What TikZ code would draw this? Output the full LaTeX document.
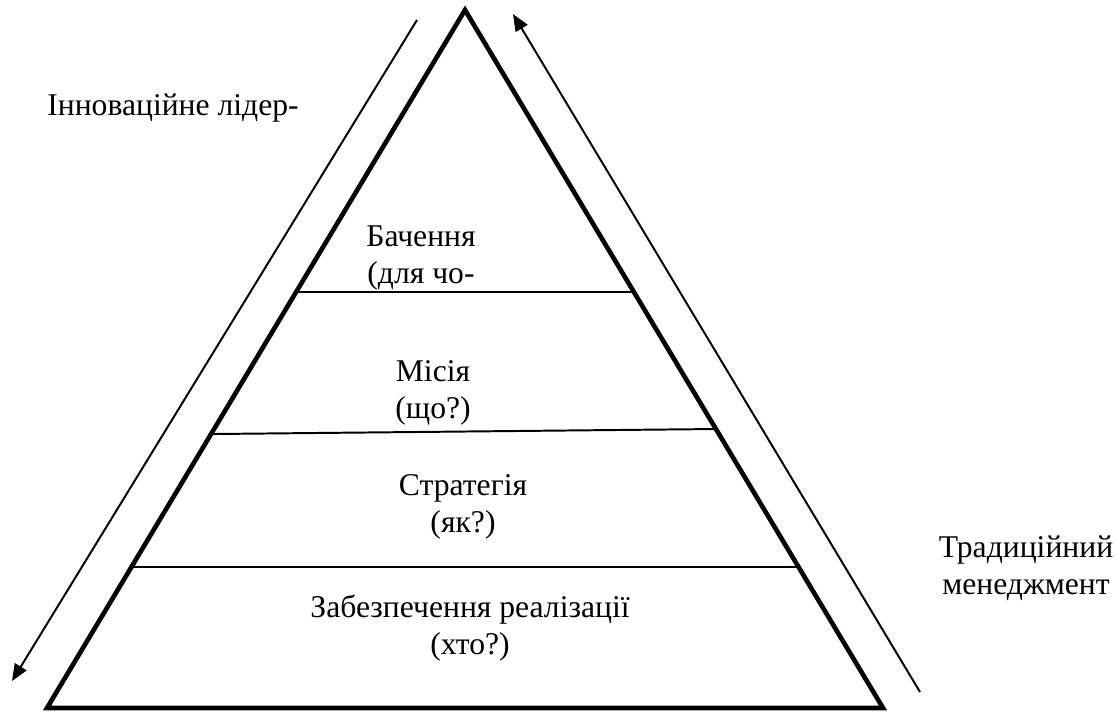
\documentclass[tikz,border=0pt]{standalone}
\usepackage{fontspec}
\setmainfont{Liberation Serif}
\usetikzlibrary{arrows.meta,calc}

\begin{document}
\begin{tikzpicture}[x=0.025cm,y=-0.025cm,
    lbl/.style={align=center,font=\fontsize{22.5}{26}\selectfont,inner sep=0pt},
    edge/.style={line width=3.3pt,line join=miter},
    level/.style={line width=1.4pt},
    flow/.style={line width=1.4pt,-{Triangle[length=0.42cm,width=0.34cm]}}]
  \useasboundingbox (0,0) rectangle (1116,713);
  \coordinate (apex) at (465,10);
  \coordinate (bl) at (47,708);
  \coordinate (br) at (883,708);
  % Draw the pyramid
  \draw[edge] (apex) -- (br) -- (bl) -- cycle;
  \coordinate (l1) at ($(apex)!0.404!(bl)$);
  \coordinate (r1) at ($(apex)!0.404!(br)$);
  \coordinate (l2) at ($(apex)!0.6075!(bl)$);
  \coordinate (r2) at ($(apex)!0.6003!(br)$);
  \coordinate (l3) at ($(apex)!0.798!(bl)$);
  \coordinate (r3) at ($(apex)!0.798!(br)$);
  \draw[level] (l1) -- (r1);
  \draw[level] (l2) -- (r2);
  \draw[level] (l3) -- (r3);
  \node[lbl] (vision) at (421,258) {Бачення\\(для чо-};
  \node[lbl] (mission) at (433,393) {Місія\\(що?)};
  \node[lbl] (strategy) at (463,507) {Стратегія\\(як?)};
  \node[lbl] (delivery) at (470,628) {Забезпечення реалізації\\(хто?)};
  \node[lbl] (innov) at (173,108) {Інноваційне лідер-};
  \node[lbl] (trad) at (1026,568) {Традиційний\\менеджмент};
  % Draw the side arrows
  \coordinate (ltop) at (417,20);
  \coordinate (ltip) at (12,681);
  \coordinate (rbot) at (920,692);
  \coordinate (rtip) at (513,14);
  \draw[flow] (ltop) -- (ltip);
  \draw[flow] (rbot) -- (rtip);
\end{tikzpicture}
\end{document}
